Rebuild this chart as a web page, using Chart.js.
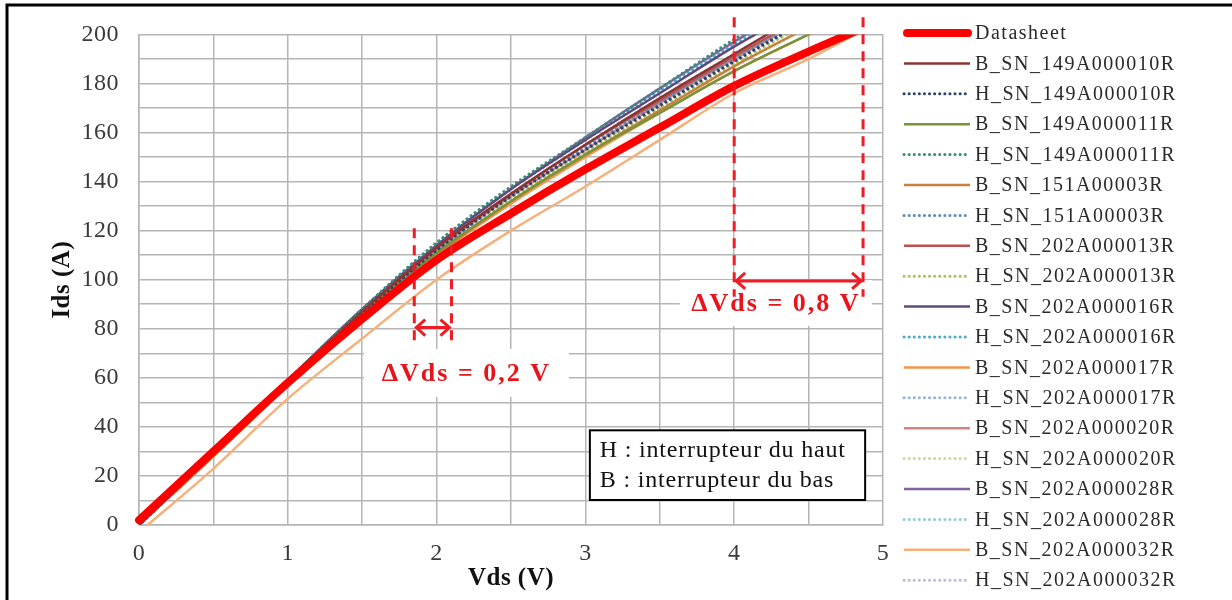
<!DOCTYPE html>
<html>
<head>
<meta charset="utf-8">
<script src="https://cdn.jsdelivr.net/npm/chart.js@4.4.1/dist/chart.umd.min.js"></script>
<style>
html, body { margin: 0; padding: 0; background: #fff; }
#wrap { width: 1232px; height: 600px; position: relative; }
</style>
</head>
<body>
<div id="wrap"><canvas id="chart" width="1232" height="600"></canvas></div>
<script>
// Vds grid (V) shared by every curve
const vds = [0, 0.5, 1, 1.5, 2, 2.5, 3, 3.5, 4, 4.5, 5];

// Ids (A), one array per curve
const datasheet   = [2, 30, 58, 84, 108, 127, 145, 162, 179, 193, 206];
const b149a10     = [0, 29, 59, 87, 113, 135, 155, 174, 192, 210, 228];
const h149a10     = [0, 29, 58, 86, 112, 134, 153, 171, 189, 206, 222];
const b149a11     = [0, 29, 58, 86, 111, 132, 151, 168, 185, 200, 215];
const h149a11     = [0, 29, 59, 88, 115, 138, 158, 178, 198, 216, 234];
const b151a3      = [0, 28, 57, 85, 110, 132, 151, 169, 187, 203, 218];
const h151a3      = [0, 29, 58, 86, 112, 134, 154, 172, 190, 207, 223];
const b202a13     = [0, 29, 59, 87, 113, 135, 155, 173, 191, 208, 224];
const h202a13     = [0, 29, 58, 86, 111, 133, 152, 170, 188, 205, 221];
const b202a16     = [0, 29, 59, 88, 114, 137, 157, 176, 195, 212, 229];
const h202a16     = [0, 29, 59, 88, 115, 137, 157, 177, 196, 214, 232];
const b202a17     = [0, 28, 57, 85, 110, 131, 150, 168, 185, 200, 215];
const h202a17     = [0, 29, 58, 86, 112, 134, 153, 171, 189, 206, 222];
const b202a20     = [0, 29, 58, 86, 112, 134, 153, 172, 190, 207, 224];
const h202a20     = [0, 29, 58, 86, 111, 133, 152, 170, 187, 203, 219];
const b202a28     = [0, 29, 59, 88, 114, 137, 158, 178, 197, 215, 233];
const h202a28     = [0, 29, 58, 87, 113, 135, 155, 174, 192, 209, 226];
const b202a32     = [-3, 23, 51.5, 76, 100, 120, 138, 157, 176, 190, 206];
const h202a32     = [0, 29, 58, 86, 112, 134, 154, 172, 190, 207, 223];

const seriesNames = [
  "Datasheet",
  "B_SN_149A000010R", "H_SN_149A000010R",
  "B_SN_149A000011R", "H_SN_149A000011R",
  "B_SN_151A00003R",  "H_SN_151A00003R",
  "B_SN_202A000013R", "H_SN_202A000013R",
  "B_SN_202A000016R", "H_SN_202A000016R",
  "B_SN_202A000017R", "H_SN_202A000017R",
  "B_SN_202A000020R", "H_SN_202A000020R",
  "B_SN_202A000028R", "H_SN_202A000028R",
  "B_SN_202A000032R", "H_SN_202A000032R"
];
const seriesValues = [
  datasheet,
  b149a10, h149a10, b149a11, h149a11, b151a3, h151a3,
  b202a13, h202a13, b202a16, h202a16, b202a17, h202a17,
  b202a20, h202a20, b202a28, h202a28, b202a32, h202a32
];
const seriesColors = [
  "#ff0000",
  "#8c3432", "#2f3f70", "#77933c", "#3d8a7a", "#c8803e", "#5b8db8",
  "#c0504d", "#a8c060", "#604a7b", "#4bacc6", "#f79646", "#95b3d7",
  "#cf8584", "#c9d89e", "#8064a2", "#93cddd", "#f7b07a", "#c4b8d8"
];

const xTicks = { min: 0, max: 5, step: 0.5 };
const yTicks = { min: 0, max: 200, step: 10 };

// ΔVds markers (values in data units)
const dashLines = [
  { x: 1.85, from: 75, to: 121 },
  { x: 2.1,  from: 75, to: 121 },
  { x: 4.0,  from: 93, to: 207 },
  { x: 4.866, from: 93, to: 207 }
];
const arrows = [
  { x0: 1.85, x1: 2.1, y: 80.5 },
  { x0: 4.0, x1: 4.866, y: 99.5 }
];
const deltaLabels = [
  { x: 2.2,  y: 62,   text: "\u0394Vds = 0,2 V", w: 205, h: 48 },
  { x: 4.28, y: 90.5, text: "\u0394Vds = 0,8 V", w: 192, h: 46 }
];
const noteLines = ["H : interrupteur du haut", "B : interrupteur du bas"];

const serif = "'Liberation Serif', 'Times New Roman', serif";

const datasets = seriesNames.map((name, i) => {
  const dotted = name.startsWith("H_");
  const main = i === 0;
  return {
    label: name,
    data: vds.map((x, k) => ({ x: x, y: seriesValues[i][k] })),
    borderColor: seriesColors[i],
    backgroundColor: seriesColors[i],
    borderWidth: main ? 8 : (dotted ? 3 : 2.5),
    borderDash: dotted ? [0.1, 5] : [],
    borderCapStyle: (main || dotted) ? "round" : "butt",
    pointRadius: 0,
    cubicInterpolationMode: "monotone",
    fill: false,
    clip: main ? { left: 5, top: 0, right: 0, bottom: 5 } : 0
  };
});

const framePlugin = {
  id: "frame",
  beforeDraw(chart) {
    chart.ctx.letterSpacing = "0.5px";
  },
  afterDatasetsDraw(chart) {
    const ctx = chart.ctx;
    const xs = chart.scales.x, ys = chart.scales.y;
    ctx.save();
    ctx.letterSpacing = "2px";

    // white label boxes + red text
    deltaLabels.forEach(l => {
      const cx = xs.getPixelForValue(l.x), cy = ys.getPixelForValue(l.y);
      ctx.fillStyle = "#ffffff";
      ctx.fillRect(cx - l.w / 2, cy - l.h / 2, l.w, l.h);
      ctx.fillStyle = "#e8141c";
      ctx.font = "bold 26px " + serif;
      ctx.textAlign = "center";
      ctx.textBaseline = "middle";
      ctx.fillText(l.text, cx, cy + 1);
    });

    // dashed verticals
    ctx.strokeStyle = "#ee1c25";
    ctx.lineWidth = 3;
    ctx.setLineDash([10, 7]);
    dashLines.forEach(d => {
      const px = xs.getPixelForValue(d.x);
      ctx.beginPath();
      ctx.moveTo(px, ys.getPixelForValue(d.to));
      ctx.lineTo(px, ys.getPixelForValue(d.from));
      ctx.stroke();
    });
    ctx.setLineDash([]);

    // double arrows
    arrows.forEach(a => {
      const p0 = xs.getPixelForValue(a.x0), p1 = xs.getPixelForValue(a.x1);
      const py = ys.getPixelForValue(a.y);
      ctx.beginPath();
      ctx.moveTo(p0 + 2, py); ctx.lineTo(p1 - 2, py);
      ctx.moveTo(p0 + 11, py - 8); ctx.lineTo(p0 + 2, py); ctx.lineTo(p0 + 11, py + 8);
      ctx.moveTo(p1 - 11, py - 8); ctx.lineTo(p1 - 2, py); ctx.lineTo(p1 - 11, py + 8);
      ctx.stroke();
    });

    // H / B note box
    const bx0 = xs.getPixelForValue(3.03), bx1 = xs.getPixelForValue(4.88);
    const by0 = ys.getPixelForValue(38.6), by1 = ys.getPixelForValue(10.2);
    ctx.fillStyle = "#ffffff";
    ctx.fillRect(bx0, by0, bx1 - bx0, by1 - by0);
    ctx.strokeStyle = "#000";
    ctx.lineWidth = 2;
    ctx.strokeRect(bx0, by0, bx1 - bx0, by1 - by0);
    ctx.fillStyle = "#111";
    ctx.font = "24px " + serif;
    ctx.letterSpacing = "0.8px";
    ctx.textAlign = "left";
    ctx.textBaseline = "middle";
    ctx.fillText(noteLines[0], bx0 + 10, by0 + 20);
    ctx.fillText(noteLines[1], bx0 + 10, by0 + 50);
    ctx.restore();
  },
  afterDraw(chart) {
    const ctx = chart.ctx;
    ctx.save();
    // side legend
    ctx.letterSpacing = "1.5px";
    ctx.font = "20px " + serif;
    ctx.textAlign = "left";
    ctx.textBaseline = "middle";
    chart.data.datasets.forEach((ds, i) => {
      const y = 33 + i * 30.4;
      ctx.strokeStyle = ds.borderColor;
      ctx.lineWidth = ds.borderWidth;
      ctx.lineCap = ds.borderCapStyle;
      ctx.setLineDash(ds.borderDash);
      ctx.beginPath();
      ctx.moveTo(i === 0 ? 907 : 904, y);
      ctx.lineTo(i === 0 ? 968 : 970, y);
      ctx.stroke();
      ctx.setLineDash([]);
      ctx.fillStyle = "#2a2a2a";
      ctx.fillText(ds.label, 975, y + 1);
    });
    // outer frame
    ctx.strokeStyle = "#000";
    ctx.lineWidth = 3;
    ctx.lineCap = "butt";
    ctx.beginPath();
    ctx.moveTo(7, 600); ctx.lineTo(7, 5); ctx.lineTo(1232, 5);
    ctx.stroke();
    ctx.restore();
  }
};

const gridColor = "#b5b5b5";
const tickFont = { family: serif, size: 24 };

new Chart(document.getElementById("chart"), {
  type: "line",
  data: { datasets: datasets },
  options: {
    responsive: false,
    devicePixelRatio: 1,
    animation: false,
    layout: { padding: { left: 48, top: 33, right: 349, bottom: 6 } },
    plugins: {
      legend: { display: false },
      tooltip: { enabled: false }
    },
    scales: {
      x: {
        type: "linear",
        min: xTicks.min,
        max: xTicks.max,
        ticks: {
          stepSize: xTicks.step,
          autoSkip: false,
          maxRotation: 0,
          padding: 14,
          color: "#3a3a3a",
          font: tickFont,
          callback: v => Number.isInteger(v) ? v : ""
        },
        grid: { color: gridColor, lineWidth: 1.5, drawTicks: false },
        border: { color: gridColor, width: 1.5 },
        title: {
          display: true,
          text: "Vds (V)",
          color: "#111",
          font: { family: serif, size: 25, weight: "bold" },
          padding: 0
        },
        afterFit: s => { s.height = 69; }
      },
      y: {
        type: "linear",
        min: yTicks.min,
        max: yTicks.max,
        ticks: {
          stepSize: yTicks.step,
          autoSkip: false,
          padding: 20,
          color: "#3a3a3a",
          font: tickFont,
          callback: v => v % 20 === 0 ? v : ""
        },
        grid: { color: gridColor, lineWidth: 1.5, drawTicks: false },
        border: { color: gridColor, width: 1.5 },
        title: {
          display: true,
          text: "Ids (A)",
          color: "#111",
          font: { family: serif, size: 25, weight: "bold" },
          padding: 0
        },
        afterFit: s => { s.width = 91; }
      }
    }
  },
  plugins: [framePlugin]
});
</script>
</body>
</html>
